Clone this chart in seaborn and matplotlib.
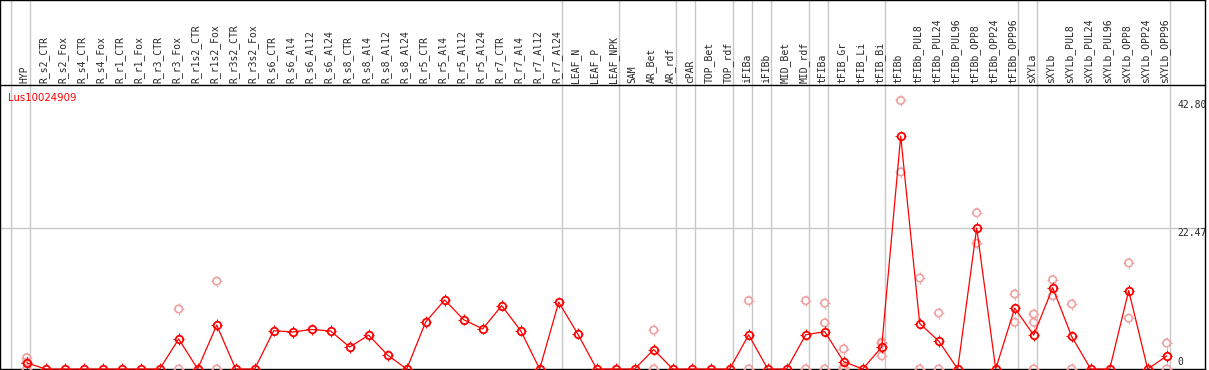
import matplotlib
matplotlib.use("Agg")
import matplotlib.pyplot as plt
import seaborn as sns
import pandas as pd
import numpy as np
from matplotlib.path import Path

# --- data -------------------------------------------------------------
gene = "Lus10024909"

samples = [
    "HYP", "R_s2_CTR", "R_s2_Fox", "R_s4_CTR", "R_s4_Fox", "R_r1_CTR", "R_r1_Fox",
    "R_r3_CTR", "R_r3_Fox", "R_r1s2_CTR", "R_r1s2_Fox", "R_r3s2_CTR", "R_r3s2_Fox",
    "R_s6_CTR", "R_s6_Al4", "R_s6_Al12", "R_s6_Al24", "R_s8_CTR", "R_s8_Al4",
    "R_s8_Al12", "R_s8_Al24", "R_r5_CTR", "R_r5_Al4", "R_r5_Al12", "R_r5_Al24",
    "R_r7_CTR", "R_r7_Al4", "R_r7_Al12", "R_r7_Al24", "LEAF_N", "LEAF_P", "LEAF_NPK",
    "SAM", "AR_Bet", "AR_rdf", "cPAR", "TOP_Bet", "TOP_rdf", "iFIBa", "iFIBb",
    "MID_Bet", "MID_rdf", "tFIBa", "tFIB_Gr", "tFIB_Li", "tFIB_Bi", "tFIBb",
    "tFIBb_PUL8", "tFIBb_PUL24", "tFIBb_PUL96", "tFIBb_OPP8", "tFIBb_OPP24",
    "tFIBb_OPP96", "sXYLa", "sXYLb", "sXYLb_PUL8", "sXYLb_PUL24", "sXYLb_PUL96",
    "sXYLb_OPP8", "sXYLb_OPP24", "sXYLb_OPP96",
]

means = [
    0.97, 0, 0, 0, 0, 0, 0, 0, 4.78, 0, 7.0, 0, 0,
    6.1, 5.9, 6.3, 6.05, 3.5, 5.4, 2.2, 0,
    7.5, 11.0, 7.85, 6.4, 10.1, 6.1, 0, 10.65,
    5.6, 0, 0, 0, 3.1, 0, 0, 0, 0, 5.45, 0, 0, 5.45,
    5.95, 1.17, 0, 3.5, 37.1, 7.25, 4.46, 0, 22.47, 0, 9.7,
    5.4, 12.95, 5.18, 0, 0, 12.5, 0, 2.07,
]

# individual replicates (light circles)
rep_samples = [
    "HYP", "HYP", "HYP", "R_r3_Fox", "R_r3_Fox", "R_r1s2_Fox", "R_r1s2_Fox",
    "AR_Bet", "AR_Bet", "iFIBa", "iFIBa", "MID_rdf", "MID_rdf",
    "tFIBa", "tFIBa", "tFIBa", "tFIB_Gr", "tFIB_Gr", "tFIB_Gr",
    "tFIB_Bi", "tFIB_Bi", "tFIB_Bi", "tFIBb", "tFIBb",
    "tFIBb_PUL8", "tFIBb_PUL8", "tFIBb_PUL24", "tFIBb_PUL24",
    "tFIBb_OPP8", "tFIBb_OPP8", "tFIBb_OPP96", "tFIBb_OPP96",
    "sXYLa", "sXYLa", "sXYLa", "sXYLb", "sXYLb", "sXYLb_PUL8", "sXYLb_PUL8",
    "sXYLb_OPP8", "sXYLb_OPP8", "sXYLb_OPP96", "sXYLb_OPP96",
]
rep_values = [
    1.8, 1.1, 0, 9.56, 0, 14.0, 0,
    6.2, 0, 10.9, 0, 10.9, 0,
    10.5, 7.35, 0, 3.2, 0.3, 0,
    4.3, 2.1, 4.1, 42.80, 31.4,
    14.5, 0, 8.92, 0,
    24.9, 20.04, 11.95, 7.45,
    8.76, 7.43, 0, 14.23, 11.68, 10.36, 0,
    16.9, 8.1, 4.14, 0,
]

group_sizes = [1, 28, 3, 3, 1, 2, 1, 1, 2, 1, 3, 7, 1, 7]
y_ticks = [0, 22.47, 42.80]

RED = "#ff0000"
PINK = "#f0a0a0"
GRID = "#c8c8c8"

# --- layout (pixels of the 1209x370 image) ----------------------------
W, H = 1209, 370
COL0, COL_STEP = 26.7, 19.0          # x pixel of first column, spacing
ZERO_PX, PX_PER_UNIT = 369.0, 141.0 / 22.47


def xdat(px):
    return (px - COL0) / COL_STEP


def ydat(px):
    return (ZERO_PX - px) / PX_PER_UNIT


sns.set_style("white")
plt.rcParams["font.family"] = ["DejaVu Sans"]

fig = plt.figure(figsize=(W / 100, H / 100), dpi=100)
ax = fig.add_axes([0, (H - ZERO_PX) / H, 1205 / W, ZERO_PX / H])
ax.set_xlim(xdat(0), xdat(1205))
ax.set_ylim(0, ydat(0))

# small ticks sticking out of each circle marker
TICK = 1.5
tick_mark = Path([(0, 1), (0, TICK), (0, -1), (0, -TICK),
                  (1, 0), (TICK, 0), (-1, 0), (-TICK, 0)],
                 [Path.MOVETO, Path.LINETO] * 4)
CIRC = 5.4                      # circle marker size (pt)
tick_s = (CIRC * TICK) ** 2

# group separators and grid
bounds = np.concatenate([[-1], np.cumsum(group_sizes) - 1]) + 0.19
for b in bounds:
    ax.axvline(b, color=GRID, lw=1, zorder=1)
ax.axhline(22.47, color=GRID, lw=1, zorder=1)
ax.axhline(ydat(85), color="black", lw=1, zorder=2)

pos = {s: i for i, s in enumerate(samples)}
df_rep = pd.DataFrame({"x": [pos[s] for s in rep_samples], "y": rep_values})
df_mean = pd.DataFrame({"x": np.arange(len(samples)), "y": means})

# replicates
sns.scatterplot(data=df_rep, x="x", y="y", ax=ax, marker="o", s=CIRC ** 2,
                facecolor="none", edgecolor=PINK, linewidth=1.2,
                clip_on=False, zorder=3)
sns.scatterplot(data=df_rep, x="x", y="y", ax=ax, marker=tick_mark, s=tick_s,
                facecolor="none", edgecolor=PINK, linewidth=0.8,
                clip_on=False, zorder=3)

# mean profile
sns.lineplot(data=df_mean, x="x", y="y", ax=ax, color=RED, lw=0.9,
             marker="o", markersize=CIRC, markerfacecolor="none",
             markeredgecolor=RED, markeredgewidth=1.3, clip_on=False, zorder=4)
sns.scatterplot(data=df_mean, x="x", y="y", ax=ax, marker=tick_mark, s=tick_s,
                facecolor="none", edgecolor=RED, linewidth=0.8,
                clip_on=False, zorder=4)

# column labels
for i, s in enumerate(samples):
    ax.text(i - 0.1, ydat(83), s, rotation=90, ha="center", va="bottom",
            fontsize=7, family="DejaVu Sans Mono")

# value labels on the right
for v in y_ticks:
    lab = "0" if v == 0 else f"{v:.2f}"
    ax.text(xdat(1177), v + (0.3 if v == 0 else 0), lab, ha="left",
            va="bottom" if v == 0 else "top", fontsize=7,
            family="DejaVu Sans Mono", clip_on=True)

ax.text(xdat(8), ydat(98), gene, color=RED, fontsize=7.3, ha="left", va="center")

for sp in ax.spines.values():
    sp.set_visible(True)
    sp.set_color("black")
    sp.set_linewidth(1)
ax.set_xticks([])
ax.set_yticks([])
ax.set(xlabel="", ylabel="")

fig.savefig("out.png", dpi=100)
